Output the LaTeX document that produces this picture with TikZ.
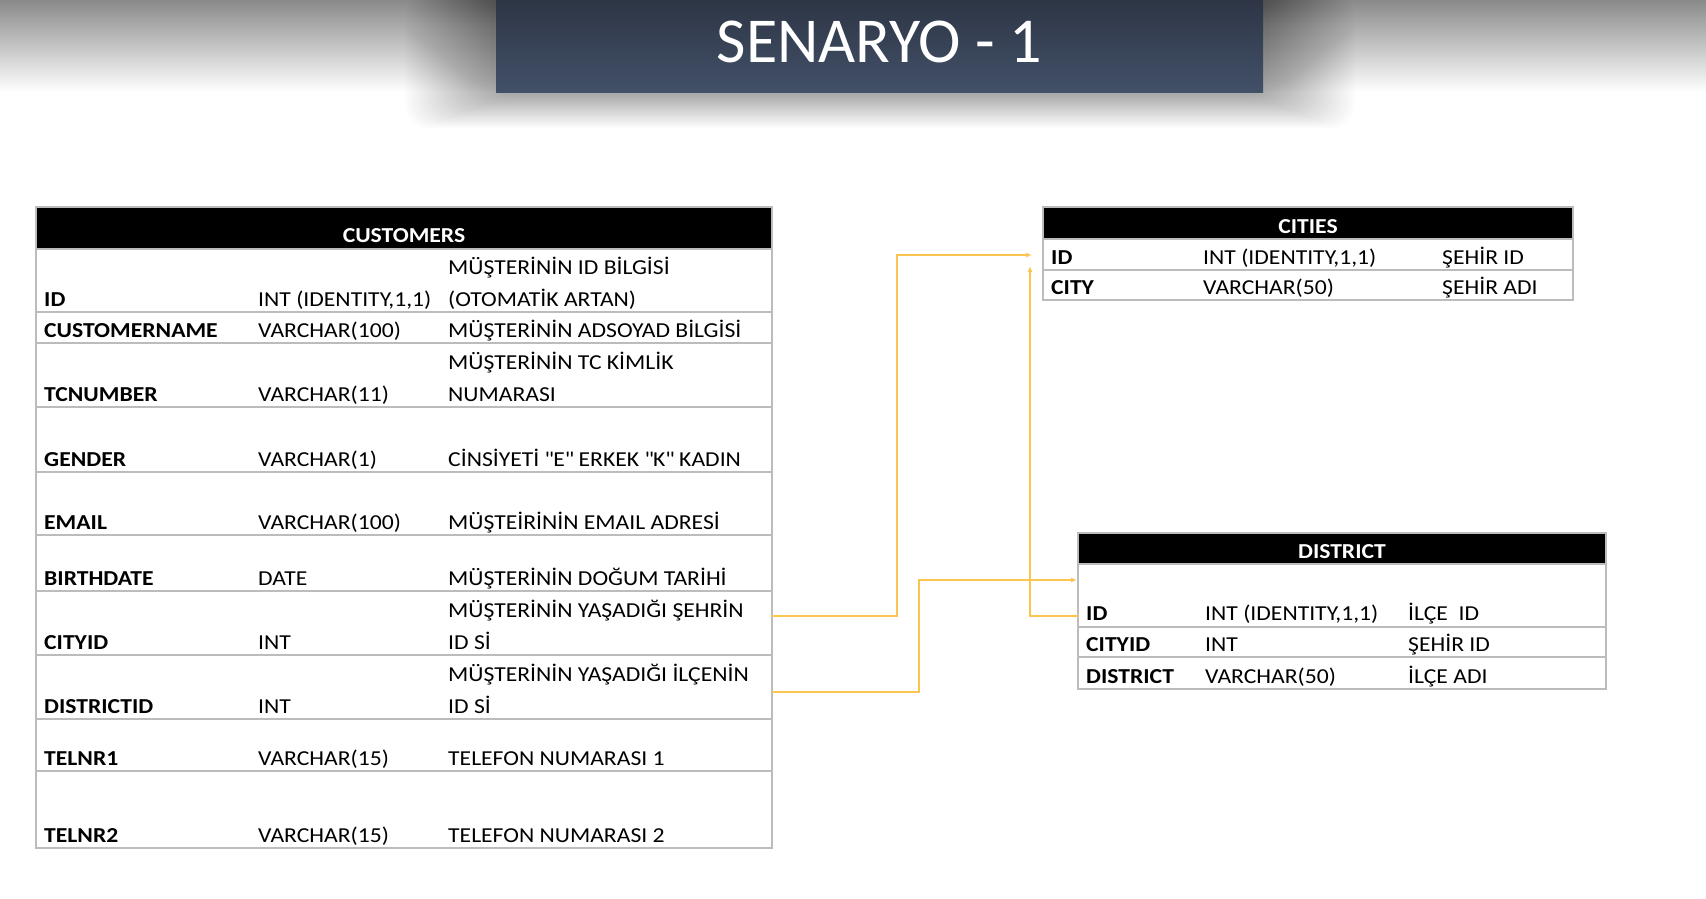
\documentclass[tikz,border=0pt]{standalone}
\usepackage{fontspec}
\setmainfont{Carlito}
\newfontfamily\tabfont[FakeStretch=1.11]{Carlito}
\usetikzlibrary{arrows.meta}
\definecolor{bannertop}{RGB}{46,54,70}
\definecolor{bannerbot}{RGB}{66,80,104}
\definecolor{conn}{RGB}{250,198,80}
\definecolor{gridc}{RGB}{188,188,188}
\tikzset{
  cell/.style={text=black,font=\tabfont\fontsize{21.3}{21.3}\selectfont,anchor=base west,inner sep=0pt},
  keycell/.style={cell,font=\tabfont\fontsize{21.3}{21.3}\selectfont\bfseries},
  headtext/.style={text=white,font=\tabfont\fontsize{21.3}{21.3}\selectfont\bfseries,anchor=base,inner sep=0pt},
  rowline/.style={draw=gridc,line width=1.6pt},
  tablebox/.style={draw=gridc,line width=1.6pt,anchor=north west,inner sep=0pt,outer sep=0pt},
  link/.style={draw=conn,line width=1.6pt,-{Latex[length=6pt,width=5pt]}}
}
\begin{document}
\begin{tikzpicture}[x=1pt,y=-1pt]
\useasboundingbox (0,0) rectangle (1706,898);
\fill[white] (0,0) rectangle (1706,898);
% top grey fade
\shade[top color=black!46,bottom color=white] (0,0) rectangle (1706,92);
% soft shadow around banner
\foreach \i in {0,...,29}{
  \fill[black,opacity=0.011,rounded corners=24pt] (405+\i*3,-10) rectangle (1355-\i*3,128-\i*1.2);
}
% banner
\shade[top color=bannertop,bottom color=bannerbot] (496,0) rectangle (1263,92);
\node[text=white!94,font=\fontsize{64}{64}\selectfont,anchor=base,inner sep=0pt] (title) at (879.5,62) {SENARYO - 1};

% ---------------- CUSTOMERS ----------------
\node[tablebox,minimum width=736pt,minimum height=641pt] (cust) at (36,207) {};
\fill[black] (cust.north west) rectangle (772,249);
\node[headtext] (custhead) at (404,242) {CUSTOMERS};
\foreach \y in {249,312,343,407,472,535,591,655,719,771}{
  \draw[rowline] (36,\y) -- (772,\y);
}
\draw[tablebox] (cust.north west) rectangle (cust.south east);
\node[keycell] (c1a) at (44,306) {ID};
\node[cell] (c1b) at (258,306) {INT (IDENTITY,1,1)};
\node[cell] (c1c) at (448,274) {MÜŞTERİNİN ID BİLGİSİ};
\node[cell] (c1d) at (448,306) {(OTOMATİK ARTAN)};
\node[keycell] (c2a) at (44,337) {CUSTOMERNAME};
\node[cell] (c2b) at (258,337) {VARCHAR(100)};
\node[cell] (c2c) at (448,337) {MÜŞTERİNİN ADSOYAD BİLGİSİ};
\node[keycell] (c3a) at (44,401) {TCNUMBER};
\node[cell] (c3b) at (258,401) {VARCHAR(11)};
\node[cell] (c3c) at (448,369) {MÜŞTERİNİN TC KİMLİK};
\node[cell] (c3d) at (448,401) {NUMARASI};
\node[keycell] (c4a) at (44,466) {GENDER};
\node[cell] (c4b) at (258,466) {VARCHAR(1)};
\node[cell] (c4c) at (448,466) {CİNSİYETİ \textquotedbl E\textquotedbl\ ERKEK \textquotedbl K\textquotedbl\ KADIN};
\node[keycell] (c5a) at (44,529) {EMAIL};
\node[cell] (c5b) at (258,529) {VARCHAR(100)};
\node[cell] (c5c) at (448,529) {MÜŞTEİRİNİN EMAIL ADRESİ};
\node[keycell] (c6a) at (44,585) {BIRTHDATE};
\node[cell] (c6b) at (258,585) {DATE};
\node[cell] (c6c) at (448,585) {MÜŞTERİNİN DOĞUM TARİHİ};
\node[keycell] (c7a) at (44,649) {CITYID};
\node[cell] (c7b) at (258,649) {INT};
\node[cell] (c7c) at (448,617) {MÜŞTERİNİN YAŞADIĞI ŞEHRİN};
\node[cell] (c7d) at (448,649) {ID Sİ};
\node[keycell] (c8a) at (44,713) {DISTRICTID};
\node[cell] (c8b) at (258,713) {INT};
\node[cell] (c8c) at (448,681) {MÜŞTERİNİN YAŞADIĞI İLÇENİN};
\node[cell] (c8d) at (448,713) {ID Sİ};
\node[keycell] (c9a) at (44,765) {TELNR1};
\node[cell] (c9b) at (258,765) {VARCHAR(15)};
\node[cell] (c9c) at (448,765) {TELEFON NUMARASI 1};
\node[keycell] (c10a) at (44,842) {TELNR2};
\node[cell] (c10b) at (258,842) {VARCHAR(15)};
\node[cell] (c10c) at (448,842) {TELEFON NUMARASI 2};

% ---------------- CITIES ----------------
\node[tablebox,minimum width=530pt,minimum height=93pt] (cities) at (1043,207) {};
\fill[black] (cities.north west) rectangle (1573,239);
\node[headtext] (citieshead) at (1308,233) {CITIES};
\foreach \y in {239,270}{
  \draw[rowline] (1043,\y) -- (1573,\y);
}
\draw[tablebox] (cities.north west) rectangle (cities.south east);
\node[keycell] (t1a) at (1051,264) {ID};
\node[cell] (t1b) at (1203,264) {INT (IDENTITY,1,1)};
\node[cell] (t1c) at (1442,264) {ŞEHİR ID};
\node[keycell] (t2a) at (1051,294) {CITY};
\node[cell] (t2b) at (1203,294) {VARCHAR(50)};
\node[cell] (t2c) at (1442,294) {ŞEHİR ADI};

% ---------------- DISTRICT ----------------
\node[tablebox,minimum width=528pt,minimum height=156pt] (district) at (1078,533) {};
\fill[black] (district.north west) rectangle (1606,564);
\node[headtext] (disthead) at (1342,558) {DISTRICT};
\foreach \y in {564,627,657}{
  \draw[rowline] (1078,\y) -- (1606,\y);
}
\draw[tablebox] (district.north west) rectangle (district.south east);
\node[keycell] (d1a) at (1086,620) {ID};
\node[cell] (d1b) at (1205,620) {INT (IDENTITY,1,1)};
\node[cell] (d1c) at (1408,620) {İLÇE\ \ ID};
\node[keycell] (d2a) at (1086,651) {CITYID};
\node[cell] (d2b) at (1205,651) {INT};
\node[cell] (d2c) at (1408,651) {ŞEHİR ID};
\node[keycell] (d3a) at (1086,683) {DISTRICT};
\node[cell] (d3b) at (1205,683) {VARCHAR(50)};
\node[cell] (d3c) at (1408,683) {İLÇE ADI};

% ---------------- connectors ----------------
\coordinate (custcity) at (772,616);
\coordinate (custdist) at (772,692);
\coordinate (citiesin) at (1032,255);
\coordinate (citiesup) at (1030,266);
\coordinate (distin) at (1077,580);
\coordinate (distout) at (1078,616);
\draw[link] (custcity) -- (897,616) |- (citiesin);
\draw[link] (custdist) -- (919,692) |- (distin);
\draw[link] (distout) -| (citiesup);
\end{tikzpicture}
\end{document}
